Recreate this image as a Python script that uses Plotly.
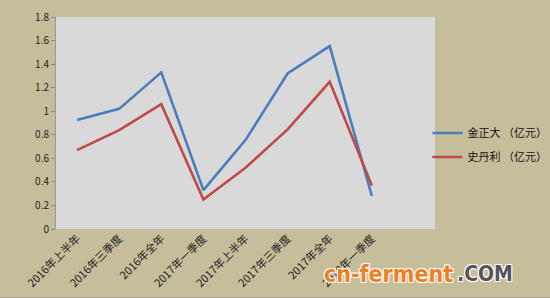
import plotly.graph_objects as go

categories = ["2016年上半年", "2016年三季度", "2016年全年", "2017年一季度",
              "2017年上半年", "2017年三季度", "2017年全年", "2018年一季度"]
jzd = [0.925, 1.02, 1.33, 0.33, 0.755, 1.32, 1.553, 0.28]
sdl = [0.67, 0.84, 1.06, 0.25, 0.52, 0.846, 1.25, 0.37]
y_ticks = [0, 0.2, 0.4, 0.6, 0.8, 1, 1.2, 1.4, 1.6, 1.8]

BG = "#C6BE9A"
font_cjk = "Noto Sans CJK SC, Noto Sans, sans-serif"
xs = list(range(len(categories)))

fig = go.Figure()
fig.add_trace(go.Scatter(x=xs, y=jzd, mode="lines", name="金正大 （亿元）", legendgroup="a",
                         line=dict(color="#4A7EBB", width=2.6), xaxis="x2"))
fig.add_trace(go.Scatter(x=xs, y=sdl, mode="lines", name="史丹利 （亿元）", legendgroup="b",
                         line=dict(color="#BE4B48", width=2.6), xaxis="x2"))

n_slots = len(categories) + 1
fig.update_layout(
    width=550, height=298,
    margin=dict(l=56, r=115, t=17, b=69, autoexpand=False),
    paper_bgcolor=BG, plot_bgcolor="#D9D9D9",
    font=dict(family=font_cjk, size=10, color="#222"),
    showlegend=True,
    legend=dict(x=0.98, xanchor="left", y=0.396, yanchor="middle",
                bgcolor="rgba(0,0,0,0)", font=dict(size=11, color="#111"),
                itemwidth=30, traceorder="grouped", tracegroupgap=5),
    xaxis=dict(range=[-0.5, n_slots - 0.5], tickmode="array",
               tickvals=[i - 0.5 for i in range(n_slots + 1)], ticktext=[""] * (n_slots + 1),
               ticks="outside", ticklen=4, tickcolor="#888", showgrid=False,
               showline=True, linecolor="#999", linewidth=1, zeroline=False),
    xaxis2=dict(overlaying="x", range=[-0.5, n_slots - 0.5], side="bottom",
                tickmode="array", tickvals=xs, ticktext=categories, tickangle=-45,
                ticks="", showgrid=False, showline=False, zeroline=False,
                tickfont=dict(size=11, color="#222")),
    yaxis=dict(range=[0, 1.8], tickmode="array", tickvals=y_ticks,
               ticktext=[f"{v:g}" for v in y_ticks],
               ticks="outside", ticklen=4, tickcolor="#888", showgrid=False,
               showline=True, linecolor="#999", linewidth=1, zeroline=False,
               tickfont=dict(size=10, color="#222")),
)

fig.add_shape(type="line", xref="paper", yref="paper", x0=-0.2, x1=1.4,
              y0=-0.325, y1=-0.325, line=dict(color="#999", width=1.5))

shadow = "1px 1px 0 #fff, -1px -1px 0 #fff, 1px -1px 0 #fff, -1px 1px 0 #fff"
fig.add_annotation(xref="paper", yref="paper", x=1.053, y=-0.212, xanchor="right", yanchor="middle",
                   text="<b>cn-ferment</b>", showarrow=False,
                   font=dict(family="DejaVu Sans Condensed", size=23, color="#EE7F22", shadow=shadow))
fig.add_annotation(xref="paper", yref="paper", x=1.053, y=-0.212, xanchor="left", yanchor="middle",
                   text="<b>.COM</b>", showarrow=False,
                   font=dict(family="DejaVu Sans Condensed", size=21, color="#555555", shadow=shadow))

fig.write_html("out.html")
